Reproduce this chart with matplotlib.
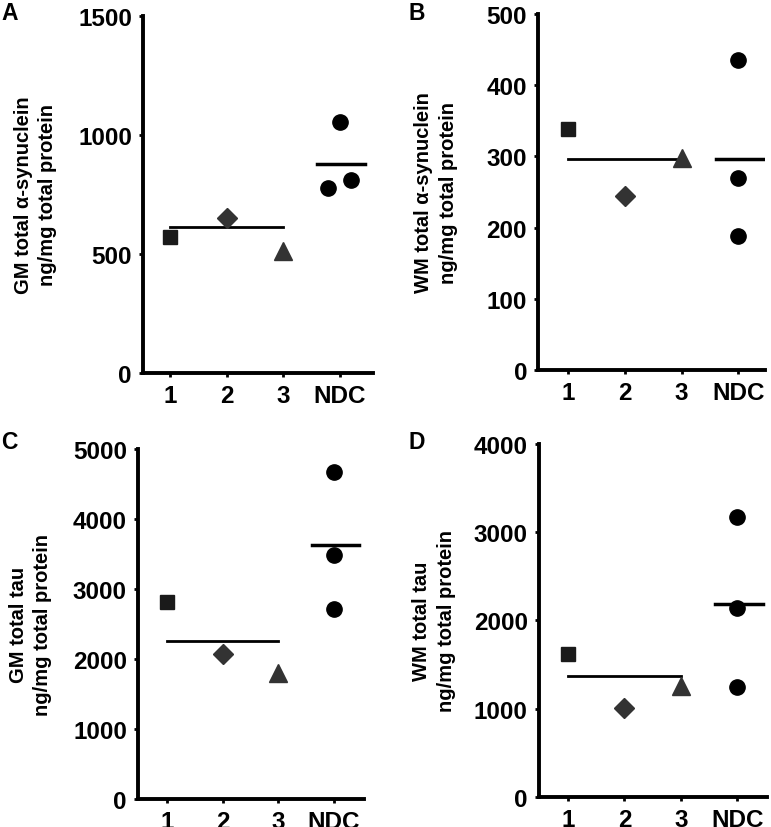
import numpy as np
import matplotlib.pyplot as plt

plt.rcParams["font.family"] = ["Liberation Sans", "DejaVu Sans"]
plt.rcParams["font.weight"] = "bold"

groups = ["1", "2", "3", "NDC"]

a_cases = [571, 651, 512]
a_ndc = [777, 1054, 811]
a_means = [613, 878]

b_cases = [338, 245, 298]
b_ndc = [435, 270, 188]
b_means = [296, 296]

c_cases = [2814, 2071, 1800]
c_ndc = [4671, 3486, 2714]
c_means = [2257, 3629]

d_cases = [1625, 1011, 1260]
d_ndc = [3170, 2136, 1250]
d_means = [1375, 2182]

ndc_jitter_a = [-0.2, 0, 0.2]
ndc_jitter = [0, 0, 0]

labels = ["GM total \u03b1-synuclein\nng/mg total protein",
          "WM total \u03b1-synuclein\nng/mg total protein",
          "GM total tau\nng/mg total protein",
          "WM total tau\nng/mg total protein"]
letters = ["A", "B", "C", "D"]
ymax = [1500, 500, 5000, 4000]
ystep = [500, 100, 1000, 1000]

fig = plt.figure(figsize=(7.71, 8.28), dpi=100)
boxes = [[0.1855, 0.5483, 0.2983, 0.4312],
         [0.698, 0.552, 0.294, 0.4299],
         [0.179, 0.0338, 0.293, 0.4227],
         [0.699, 0.0362, 0.296, 0.4264]]
xlims = [(0.52, 4.59), (0.47, 4.47), (0.48, 4.54), (0.485, 4.53)]
labx = [-0.375, -0.355, -0.38, -0.365]
letter_pos = [(0.002, 0.997), (0.53, 0.997), (0.002, 0.48), (0.53, 0.48)]

data = [(a_cases, a_ndc, a_means, ndc_jitter_a),
        (b_cases, b_ndc, b_means, ndc_jitter),
        (c_cases, c_ndc, c_means, ndc_jitter),
        (d_cases, d_ndc, d_means, ndc_jitter)]

for i in range(4):
    ax = fig.add_axes(boxes[i])
    cases, ndc, means, jit = data[i]
    ax.plot([1], [cases[0]], "s", color="#1a1a1a", ms=9.5, zorder=3)
    ax.plot([2], [cases[1]], "D", color="#333333", ms=10.5, zorder=3)
    ax.plot([3], [cases[2]], "^", color="#333333", ms=12.5, zorder=3)
    ax.plot(4 + np.array(jit), ndc, "o", color="black", ms=11, zorder=3)
    ax.plot([1, 3], [means[0], means[0]], color="black", lw=2)
    ax.plot([3.6, 4.45], [means[1], means[1]], color="black", lw=2.5)

    ax.set_xlim(*xlims[i])
    ax.set_ylim(0, ymax[i])
    ax.set_xticks(range(1, 5))
    ax.set_xticklabels(groups)
    ax.set_yticks(np.arange(0, ymax[i] + 1, ystep[i]))
    for s in ["top", "right"]:
        ax.spines[s].set_visible(False)
    for s in ["left", "bottom"]:
        ax.spines[s].set_linewidth(2.8)
    ax.tick_params(direction="out", length=3, width=2, labelsize=17.5, pad=5)
    ax.set_ylabel(labels[i], fontsize=14.5, fontweight="bold", linespacing=1.35)
    ax.yaxis.set_label_coords(labx[i], 0.5)
    fig.text(letter_pos[i][0], letter_pos[i][1], letters[i], fontsize=16.5,
             fontweight="bold", va="top")

fig.savefig("out.png", dpi=100)
